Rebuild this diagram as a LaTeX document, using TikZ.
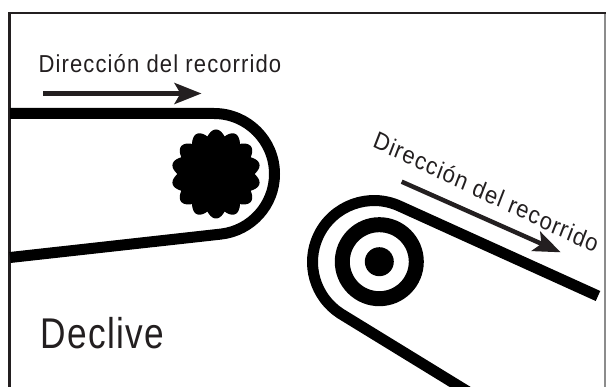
\documentclass[tikz,border=0pt]{standalone}
\usepackage{xcolor}
\usepackage{fontspec}
\setmainfont{Liberation Sans}
\newfontfamily\dirfont[LetterSpace=5]{Liberation Sans}
\newfontfamily\titlefont[LetterSpace=3.7]{Liberation Sans}
\usepackage{tikz}
\usetikzlibrary{arrows.meta}
\definecolor{ink}{HTML}{231F20}
\tikzset{
    belt/.style = {line width=11pt, black},
    dir_arrow/.style = {-{Stealth[length=27pt, width=21pt, inset=6pt]}, line width=4.5pt, ink},
    dir_label/.style = {anchor=base west, inner sep=0pt, ink, xscale=0.9, font=\dirfont\fontsize{24.5}{28}\selectfont},
    title_label/.style = {anchor=base west, inner sep=0pt, ink, xscale=0.82, font=\titlefont\fontsize{43}{46}\selectfont},
    frame_dark/.style = {line width=2.5pt, ink},
    frame_light/.style = {line width=1.2pt, black!45}
}

\begin{document}
\begin{tikzpicture}[x=1pt, y=1pt]
    \clip (0,-387) rectangle (606,0);
    \fill[white] (0,-387) rectangle (606,0);

    % frame, open at the bottom
    \draw[frame_light] (605,-13) -- (605,-387);
    \draw[frame_dark] (9.5,-387) -- (9.5,-13) -- (606,-13);

    % left pulley
    \draw[belt] (10,-113.5) -- (214,-113.5) arc (90:-83.6:60.5) -- (10,-257.5);
    \fill[shift={(216,-174)}] plot[domain=0:360, samples=281] (\x:{38.5+6*abs(sin(7*\x))}) -- cycle;

    % right pulley
    \draw[belt] (598,-296) -- (400,-206.3) arc (65:237:61.5) -- (470,-393);
    \draw[line width=15pt, black] (379.3,-261.7) circle (37);
    \fill[black] (379.3,-261.7) circle (14.5);

    % arrows
    \coordinate (arrow_a_start) at (43,-93.5);
    \coordinate (arrow_a_end) at (201.5,-93.5);
    \coordinate (arrow_b_start) at (401.7,-181.7);
    \coordinate (arrow_b_end) at (560.7,-252.3);
    \draw[dir_arrow] (arrow_a_start) -- (arrow_a_end);
    \draw[dir_arrow] (arrow_b_start) -- (arrow_b_end);

    % labels
    \node[dir_label] (label_a) at (38.5,-72.5) {Dirección del recorrido};
    \node[dir_label, rotate=-23.3] (label_b) at (371.7,-146.7) {Dirección del recorrido};
    \node[title_label] (label_title) at (40.7,-348.3) {Declive};
\end{tikzpicture}
\end{document}
